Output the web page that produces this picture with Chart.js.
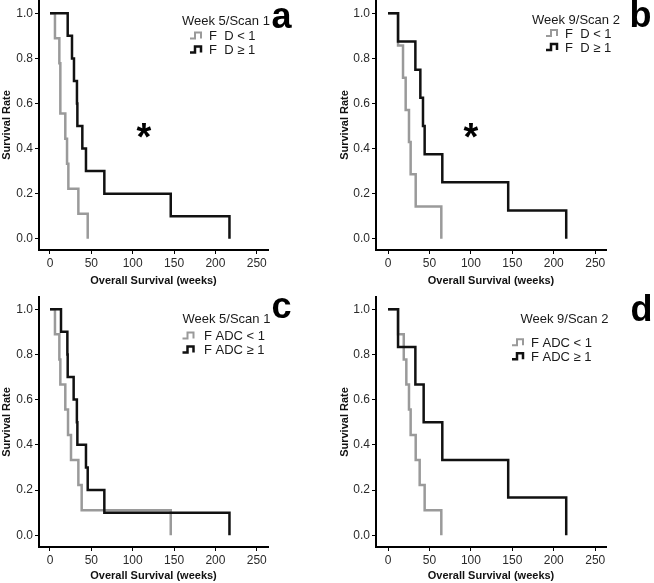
<!DOCTYPE html>
<html>
<head>
<meta charset="utf-8">
<script src="https://cdn.jsdelivr.net/npm/chart.js@4"></script>
<style>
  html, body { margin: 0; padding: 0; background: #fff; }
  #wrap { position: relative; width: 654px; height: 583px; }
  .panel { position: absolute; }
</style>
</head>
<body>
<div id="wrap">
  <div class="panel" style="left:0;top:0"><canvas id="chart-a" width="327" height="290"></canvas></div>
  <div class="panel" style="left:327px;top:0"><canvas id="chart-b" width="327" height="290"></canvas></div>
  <div class="panel" style="left:0;top:290px"><canvas id="chart-c" width="327" height="293"></canvas></div>
  <div class="panel" style="left:327px;top:290px"><canvas id="chart-d" width="327" height="293"></canvas></div>
</div>
<script>
// Kaplan-Meier curves
const xTicks = [0, 50, 100, 150, 200, 250];
const yTicks = [0, 0.2, 0.4, 0.6, 0.8, 1.0];
const xTitle = 'Overall Survival (weeks)';
const yTitle = 'Survival Rate';

const fdLabels = ['F  D < 1', 'F  D \u2265 1'];
const adcLabels = ['F ADC < 1', 'F ADC \u2265 1'];

// a - Week 5/Scan 1, F D
const aLowWeeks = [0, 6.0, 11.3, 12.5, 18.5, 20.6, 22.2, 34.3, 45.6];
const aLowSurv = [1, 0.889, 0.778, 0.556, 0.444, 0.333, 0.222, 0.111, 0];
const aHighWeeks = [0, 21.4, 26.6, 29.0, 32.6, 33.1, 39.1, 43.5, 65.7, 146, 217];
const aHighSurv = [1, 0.9, 0.8, 0.7, 0.6, 0.5, 0.4, 0.3, 0.2, 0.1, 0];

// b - Week 9/Scan 2, F D
const bLowWeeks = [0, 12.1, 18.1, 21.3, 25.3, 27.3, 33.4, 64.3];
const bLowSurv = [1, 0.857, 0.714, 0.571, 0.429, 0.286, 0.143, 0];
const bHighWeeks = [0, 12.1, 33.0, 39.0, 42.2, 44.2, 65.5, 145, 215];
const bHighSurv = [1, 0.875, 0.75, 0.625, 0.5, 0.375, 0.25, 0.125, 0];

// c - Week 5/Scan 1, F ADC
const cLowWeeks = [0, 6.0, 11.3, 12.5, 18.5, 21.8, 25.4, 34.3, 38.3, 146];
const cLowSurv = [1, 0.889, 0.778, 0.667, 0.556, 0.444, 0.333, 0.222, 0.111, 0];
const cHighWeeks = [0, 13.3, 21.0, 21.4, 28.6, 32.5, 33.1, 43.5, 45.6, 65.7, 217];
const cHighSurv = [1, 0.9, 0.8, 0.7, 0.6, 0.5, 0.4, 0.3, 0.2, 0.1, 0];

// d - Week 9/Scan 2, F ADC
const dLowWeeks = [0, 12.1, 19.0, 22.1, 25.3, 27.3, 33.4, 38.2, 44.2, 64.3];
const dLowSurv = [1, 0.889, 0.778, 0.667, 0.556, 0.444, 0.333, 0.222, 0.111, 0];
const dHighWeeks = [0, 12.1, 33.0, 43.0, 65.5, 145, 215];
const dHighSurv = [1, 0.833, 0.667, 0.5, 0.333, 0.167, 0];

const SANS = '"Liberation Sans", Arial, sans-serif';

// legend box, panel letter and asterisk
const decorPlugin = {
  id: 'panelDecor',
  afterDraw(chart, args, o) {
    const ctx = chart.ctx;
    ctx.save();
    ctx.textAlign = 'left';
    ctx.textBaseline = 'alphabetic';
    ctx.fillStyle = '#1a1a1a';
    ctx.font = '13px ' + SANS;
    ctx.fillText(o.title, o.titleX, o.titleY);
    const colors = ['#9a9a9a', '#111'];
    const widths = [2, 2.5];
    o.labels.forEach((txt, i) => {
      const y = o.itemY[i];
      const gx = o.glyphX;
      ctx.strokeStyle = colors[i];
      ctx.lineWidth = widths[i];
      ctx.beginPath();
      ctx.moveTo(gx, y - 1.5);
      ctx.lineTo(gx + 5, y - 1.5);
      ctx.lineTo(gx + 5, y - 7.5);
      ctx.lineTo(gx + 11, y - 7.5);
      ctx.lineTo(gx + 11, y - 1.5);
      ctx.stroke();
      ctx.fillText(txt, o.textX, y);
    });
    ctx.fillStyle = '#000';
    ctx.font = 'bold 36px ' + SANS;
    ctx.fillText(o.letter, o.letterX, o.letterY);
    if (o.star) {
      ctx.font = 'bold 38px ' + SANS;
      ctx.textAlign = 'center';
      ctx.fillText('*', o.star[0], o.star[1]);
    }
    ctx.restore();
  }
};

function pts(xs, ys) {
  return xs.map((x, i) => ({ x: x, y: ys[i] }));
}

function makePanel(id, p) {
  const axisLine = { display: true, color: '#000', width: 2 };
  const grid = { drawOnChartArea: false, drawTicks: true, tickLength: 4, color: '#000', lineWidth: 1 };
  const tickFont = { family: SANS, size: 12 };
  const titleFont = { family: SANS, size: 11, weight: 'bold' };
  new Chart(document.getElementById(id), {
    type: 'line',
    data: {
      datasets: [
        { data: pts(p.highX, p.highY), borderColor: '#111', borderWidth: 2.5, stepped: 'before', pointRadius: 0, fill: false },
        { data: pts(p.lowX, p.lowY), borderColor: '#9a9a9a', borderWidth: 2.5, stepped: 'before', pointRadius: 0, fill: false }
      ]
    },
    options: {
      responsive: false,
      animation: false,
      layout: { padding: p.pad },
      plugins: { legend: { display: false }, tooltip: { enabled: false }, panelDecor: p.decor },
      scales: {
        x: {
          type: 'linear', min: p.xMin, max: p.xMax,
          afterBuildTicks: s => { s.ticks = xTicks.map(v => ({ value: v })); },
          afterFit: s => { s.height = p.xH; s.paddingLeft = 0; s.paddingRight = 0; },
          grid: grid, border: axisLine,
          ticks: { font: tickFont, color: '#2a2a2a', padding: 2, maxRotation: 0, autoSkip: false, callback: v => String(v) },
          title: { display: true, text: xTitle, font: titleFont, color: '#111', padding: { top: 0, bottom: p.xTitlePad } }
        },
        y: {
          type: 'linear', min: p.yMin, max: p.yMax,
          afterBuildTicks: s => { s.ticks = yTicks.map(v => ({ value: v })); },
          afterFit: s => { s.width = p.yW; s.paddingTop = 0; s.paddingBottom = 0; },
          grid: grid, border: axisLine,
          ticks: { font: tickFont, color: '#2a2a2a', padding: 2, autoSkip: false, callback: v => v.toFixed(1) },
          title: { display: true, text: yTitle, font: titleFont, color: '#111', padding: 0 }
        }
      }
    },
    plugins: [decorPlugin]
  });
}

makePanel('chart-a', {
  highX: aHighWeeks, highY: aHighSurv, lowX: aLowWeeks, lowY: aLowSurv,
  pad: { left: 0, right: 59, top: 0, bottom: 0 }, yW: 39, xH: 40, xTitlePad: 2.5,
  xMin: -13.3, xMax: 263.6, yMin: -0.050, yMax: 1.059,
  decor: { title: 'Week 5/Scan 1', titleX: 182, titleY: 25, labels: fdLabels, glyphX: 190, textX: 209, itemY: [40, 54],
    letter: 'a', letterX: 271.5, letterY: 28.3, star: [144, 149.5] }
});

makePanel('chart-b', {
  highX: bHighWeeks, highY: bHighSurv, lowX: bLowWeeks, lowY: bLowSurv,
  pad: { left: 11, right: 48, top: 0, bottom: 0 }, yW: 38, xH: 40, xTitlePad: 2.5,
  xMin: -14.5, xMax: 263, yMin: -0.050, yMax: 1.059,
  decor: { title: 'Week 9/Scan 2', titleX: 205, titleY: 24, labels: fdLabels, glyphX: 219, textX: 238, itemY: [37.5, 51.5],
    letter: 'b', letterX: 302.5, letterY: 27.3, star: [144, 149.5] }
});

makePanel('chart-c', {
  highX: cHighWeeks, highY: cHighSurv, lowX: cLowWeeks, lowY: cLowSurv,
  pad: { left: 0, right: 59, top: 7, bottom: 0 }, yW: 39, xH: 36, xTitlePad: 0.4,
  xMin: -13.3, xMax: 263.6, yMin: -0.052, yMax: 1.054,
  decor: { title: 'Week 5/Scan 1', titleX: 182.5, titleY: 33.3, labels: adcLabels, glyphX: 182.5, textX: 204, itemY: [50, 64],
    letter: 'c', letterX: 271.5, letterY: 28.3 }
});

makePanel('chart-d', {
  highX: dHighWeeks, highY: dHighSurv, lowX: dLowWeeks, lowY: dLowSurv,
  pad: { left: 11, right: 48, top: 7, bottom: 0 }, yW: 38, xH: 36, xTitlePad: 0.4,
  xMin: -14.5, xMax: 263, yMin: -0.052, yMax: 1.054,
  decor: { title: 'Week 9/Scan 2', titleX: 193.5, titleY: 33.3, labels: adcLabels, glyphX: 185, textX: 204, itemY: [56.7, 70.7],
    letter: 'd', letterX: 303.5, letterY: 30.7 }
});
</script>
</body>
</html>
